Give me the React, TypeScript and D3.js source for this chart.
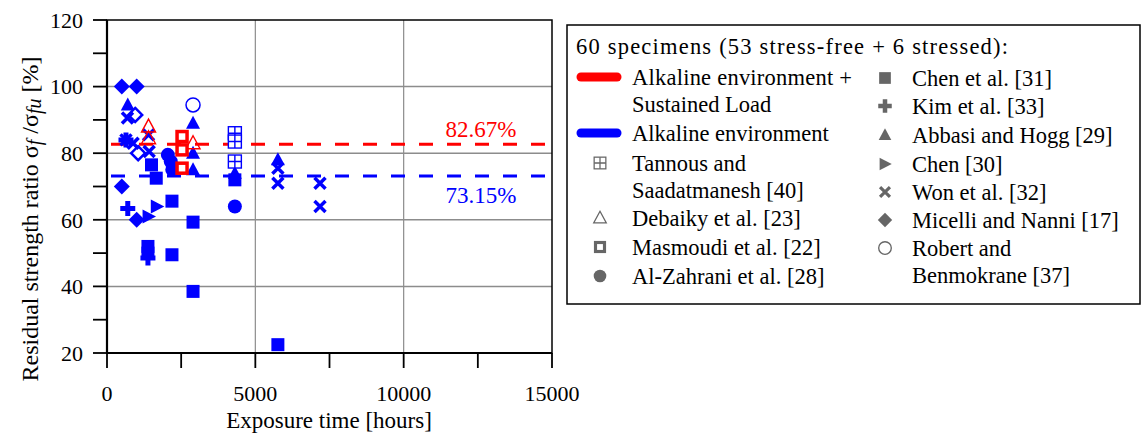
import React from "react";
import * as d3 from "d3";

type P = [number, number];

// ---- data (hours, residual strength %) ----
const xTickValues = [0, 2500, 5000, 7500, 10000, 12500, 15000];
const xTickLabels = [0, 5000, 10000, 15000];
const yTickValues = [20, 30, 40, 50, 60, 70, 80, 90, 100, 110, 120];
const yTickLabels = [20, 40, 60, 80, 100, 120];
const xGrid = [5000, 10000];
const yGrid = [40, 60, 80, 100];

const meanStressed = 82.67;
const meanFree = 73.15;

const chenEtAl: P[] = [[1380, 52], [1380, 50], [1500, 76.5], [1660, 72.5], [2190, 65.6], [2190, 49.5], [2900, 59.3], [2900, 38.5], [5760, 22.5], [4310, 72]];
const kim: P[] = [[700, 63.4], [1380, 48.5], [640, 84]];
const abbasi: P[] = [[700, 94.5], [2900, 89], [2900, 80], [2900, 75], [4310, 74], [5760, 78]];
const chen30: P[] = [[1400, 61], [1680, 64]];
const won: P[] = [[690, 90.6], [640, 84], [880, 83], [1420, 80.5], [1400, 85.5], [5760, 75.5], [5760, 71], [7180, 71], [7180, 64]];
const micelli: P[] = [[500, 100], [1000, 100], [500, 70], [1000, 60]];
const micelliHollow: P[] = [[950, 91.5], [1050, 80]];
const robert: P[] = [[2900, 94.5]];
const alZahrani: P[] = [[4310, 64], [2050, 79.5], [2150, 77.5], [2200, 75]];
const tannous: P[] = [[4310, 86], [4310, 83.5], [4310, 77.5]];
const debaiky: P[] = [[1400, 88], [1400, 84.5], [2900, 83]];
const masmoudi: P[] = [[2530, 85], [2530, 81], [2530, 75.5]];

const BLUE = "#0000ff";
const RED = "#ff0000";
const GRAY = "#666666";
const FONT = "'Liberation Serif', 'Times New Roman', serif";

type Kind = "square" | "plus" | "tri" | "triR" | "x" | "diamond" | "diamondO" | "circleO" | "circle" | "grid" | "triO" | "squareO";

function Marker({ kind, x, y, c, s = 1 }: { kind: Kind; x: number; y: number; c: string; s?: number }) {
  const t = `translate(${x},${y}) scale(${s})`;
  switch (kind) {
    case "square":
      return <rect transform={t} x={-6.5} y={-6.5} width={13} height={13} fill={c} />;
    case "squareO":
      return <rect transform={t} x={-5} y={-5} width={10} height={10} fill="#fff" stroke={c} strokeWidth={3.5} />;
    case "plus":
      return <path transform={t} d="M-2.5,-7.5H2.5V-2.5H7.5V2.5H2.5V7.5H-2.5V2.5H-7.5V-2.5H-2.5Z" fill={c} />;
    case "tri":
      return <path transform={t} d="M0,-7.5L7,5.5L-7,5.5Z" fill={c} />;
    case "triO":
      return <path transform={t} d="M0,-7.5L7,5.5L-7,5.5Z" fill="none" stroke={c} strokeWidth={1.4} />;
    case "triR":
      return <path transform={t} d="M-6,-7L7.5,0L-6,7Z" fill={c} />;
    case "x":
      return <path transform={t} d="M-5.5,-5.5L5.5,5.5M5.5,-5.5L-5.5,5.5" stroke={c} strokeWidth={3.5} fill="none" />;
    case "diamond":
      return <path transform={t} d="M0,-8L8,0L0,8L-8,0Z" fill={c} />;
    case "diamondO":
      return <path transform={t} d="M0,-7L7,0L0,7L-7,0Z" fill="#fff" stroke={c} strokeWidth={2.5} />;
    case "circle":
      return <circle transform={t} r={7} fill={c} />;
    case "circleO":
      return <circle transform={t} r={7} fill="none" stroke={c} strokeWidth={1.5} />;
    case "grid":
      return (
        <g transform={t} fill="none" stroke={c} strokeWidth={1.4}>
          <rect x={-6.5} y={-6.5} width={13} height={13} fill="#fff" />
          <path d="M0,-6.5V6.5M-6.5,0H6.5" />
        </g>
      );
  }
  return null;
}

export default function App() {
  const x = d3.scaleLinear().domain([0, 15000]).range([107, 552]);
  const y = d3.scaleLinear().domain([20, 120]).range([353, 20]);
  const x0 = x(0), x1 = x(15000), y0 = y(20), y1 = y(120);

  const series: { data: P[]; kind: Kind; c: string }[] = [
    { data: alZahrani, kind: "circle", c: BLUE },
    { data: chenEtAl, kind: "square", c: BLUE },
    { data: kim, kind: "plus", c: BLUE },
    { data: abbasi, kind: "tri", c: BLUE },
    { data: chen30, kind: "triR", c: BLUE },
    { data: micelli, kind: "diamond", c: BLUE },
    { data: micelliHollow, kind: "diamondO", c: BLUE },
    { data: won, kind: "x", c: BLUE },
    { data: robert, kind: "circleO", c: BLUE },
    { data: tannous, kind: "grid", c: BLUE },
    { data: debaiky, kind: "triO", c: RED },
    { data: masmoudi, kind: "squareO", c: RED },
  ];

  const legLeft: { kind?: Kind; line?: string; lines: string[]; y: number; len?: number }[] = [
    { line: RED, lines: ["Alkaline environment +", "Sustained Load"], y: 77, len: 220 },
    { line: BLUE, lines: ["Alkaline environment"], y: 133 },
    { kind: "grid", lines: ["Tannous and", "Saadatmanesh [40]"], y: 163 },
    { kind: "triO", lines: ["Debaiky et al. [23]"], y: 218 },
    { kind: "squareO", lines: ["Masmoudi et al. [22]"], y: 247 },
    { kind: "circle", lines: ["Al-Zahrani et al. [28]"], y: 276 },
  ];
  const legRight: { kind: Kind; lines: string[]; y: number }[] = [
    { kind: "square", lines: ["Chen et al. [31]"], y: 78 },
    { kind: "plus", lines: ["Kim et al. [33]"], y: 106 },
    { kind: "tri", lines: ["Abbasi and Hogg [29]"], y: 135 },
    { kind: "triR", lines: ["Chen [30]"], y: 164 },
    { kind: "x", lines: ["Won et al. [32]"], y: 192 },
    { kind: "diamond", lines: ["Micelli and Nanni [17]"], y: 220 },
    { kind: "circleO", lines: ["Robert and", "Benmokrane [37]"], y: 248 },
  ];
  const LH = 27;
  const legFont = 22.5;

  return (
    <svg width={1143} height={433} style={{ position: "absolute", left: 0, top: 0, background: "#fff" }} fontFamily={FONT}>
      <rect width={1143} height={433} fill="#fff" />
      {/* grid */}
      {xGrid.map((v) => (
        <line key={"gx" + v} x1={x(v)} x2={x(v)} y1={y0} y2={y1} stroke="#8c8c8c" strokeWidth={1.2} />
      ))}
      {yGrid.map((v) => (
        <line key={"gy" + v} x1={x0} x2={x1} y1={y(v)} y2={y(v)} stroke="#8c8c8c" strokeWidth={1.5} />
      ))}
      {/* mean lines */}
      <line x1={x0} x2={x1} y1={y(meanStressed)} y2={y(meanStressed)} stroke={RED} strokeWidth={3} strokeDasharray="14 14" strokeDashoffset={-4} />
      <line x1={x0} x2={x1} y1={y(meanFree)} y2={y(meanFree)} stroke={BLUE} strokeWidth={3} strokeDasharray="14 14" strokeDashoffset={-4} />
      <text x={481} y={137} fontSize={23} fill={RED} textAnchor="middle">{meanStressed.toFixed(2)}%</text>
      <text x={481} y={203} fontSize={23} fill={BLUE} textAnchor="middle">{meanFree.toFixed(2)}%</text>
      {/* points */}
      {series.map((s, i) => (
        <g key={"s" + i}>
          {s.data.map((d, j) => (
            <Marker key={j} kind={s.kind} x={x(d[0])} y={y(d[1])} c={s.c} />
          ))}
        </g>
      ))}
      {/* frame */}
      <rect x={x0} y={y1} width={x1 - x0} height={y0 - y1} fill="none" stroke="#000" strokeWidth={1.5} />
      <line x1={x0} x2={x0} y1={y1} y2={y0 + 1} stroke="#000" strokeWidth={2.2} />
      <line x1={x0 - 1} x2={x1} y1={y0} y2={y0} stroke="#000" strokeWidth={2.2} />
      {/* ticks */}
      {yTickValues.map((v) => (
        <line key={"yt" + v} x1={x0 - 14} x2={x0} y1={y(v)} y2={y(v)} stroke="#000" strokeWidth={1.8} />
      ))}
      {xTickValues.map((v) => (
        <line key={"xt" + v} x1={x(v)} x2={x(v)} y1={y0} y2={y0 + 15} stroke="#000" strokeWidth={1.8} />
      ))}
      {yTickLabels.map((v) => (
        <text key={"yl" + v} x={83} y={y(v)} dy="0.35em" fontSize={22} textAnchor="end">{v}</text>
      ))}
      {xTickLabels.map((v) => (
        <text key={"xl" + v} x={x(v)} y={401} fontSize={22} textAnchor="middle">{v}</text>
      ))}
      <text x={329} y={428} fontSize={23} textAnchor="middle">Exposure time [hours]</text>
      <text transform="translate(38,219) rotate(-90)" fontSize={24} textAnchor="middle">
        Residual strength ratio σ<tspan fontStyle="italic" fontSize={20} dy={3}>f</tspan>
        <tspan dy={-3}> /σ</tspan>
        <tspan fontStyle="italic" fontSize={20} dy={3}>fu</tspan>
        <tspan dy={-3}> [%]</tspan>
      </text>
      {/* legend */}
      <rect x={567} y={25} width={573} height={279} fill="#fff" stroke="#000" strokeWidth={1.5} />
      <text x={576} y={46} fontSize={legFont} dominantBaseline="central" textLength={432} lengthAdjust="spacing">60 specimens (53 stress-free + 6 stressed):</text>
      {legLeft.map((e, i) => (
        <g key={"ll" + i}>
          {e.line && <line x1={581} x2={617} y1={e.y} y2={e.y} stroke={e.line} strokeWidth={9} strokeLinecap="round" />}
          {e.kind && <Marker kind={e.kind} x={600} y={e.y} c={GRAY} s={0.9} />}
          {e.lines.map((t, k) => (
            <text key={k} x={632} y={e.y + k * LH} fontSize={legFont} dominantBaseline="central"
              {...(k === 0 && e.len ? { textLength: e.len, lengthAdjust: "spacing" } : {})}>{t}</text>
          ))}
        </g>
      ))}
      {legRight.map((e, i) => (
        <g key={"lr" + i}>
          <Marker kind={e.kind} x={885} y={e.y} c={GRAY} s={0.9} />
          {e.lines.map((t, k) => (
            <text key={k} x={912} y={e.y + k * LH} fontSize={legFont} dominantBaseline="central">{t}</text>
          ))}
        </g>
      ))}
    </svg>
  );
}
